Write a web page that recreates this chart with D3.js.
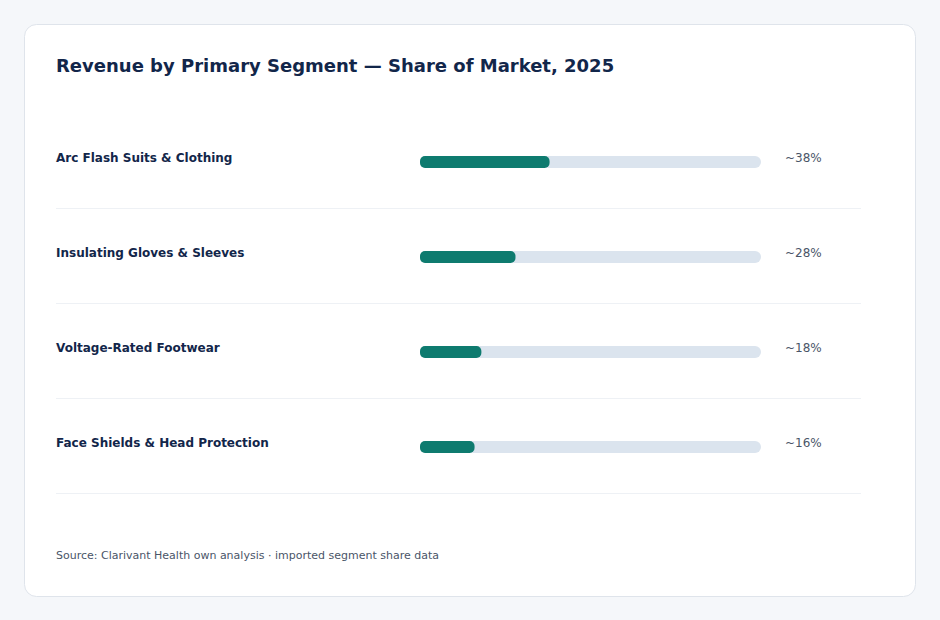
<!DOCTYPE html>
<html>
<head>
<meta charset="utf-8">
<script src="https://cdn.jsdelivr.net/npm/d3@7"></script>
<style>
  html, body { margin: 0; padding: 0; background: #f5f7fa; }
  svg { display: block; font-family: "DejaVu Sans", sans-serif; }
</style>
</head>
<body>
<div id="chart"></div>
<script>
const segments = ["Arc Flash Suits & Clothing", "Insulating Gloves & Sleeves", "Voltage-Rated Footwear", "Face Shields & Head Protection"];
const shares = [38, 28, 18, 16];
const shareLabels = ["~38%", "~28%", "~18%", "~16%"];

const width = 940, height = 620;

const svg = d3.select("#chart").append("svg")
    .attr("width", width)
    .attr("height", height);

// card
svg.append("rect")
    .attr("x", 24.5).attr("y", 24.5)
    .attr("width", 891).attr("height", 572)
    .attr("rx", 12)
    .attr("fill", "#fff")
    .attr("stroke", "#dfe4eb");

svg.append("text")
    .attr("x", 56).attr("y", 72)
    .attr("font-size", 18).attr("font-weight", "bold")
    .attr("fill", "#12264a")
    .text("Revenue by Primary Segment \u2014 Share of Market, 2025");

const rowY = d3.scaleBand()
    .domain(segments)
    .range([113, 493])
    .paddingInner(0);

const x = d3.scaleLinear().domain([0, 100]).range([420, 761]);

const rows = svg.append("g").selectAll("g")
    .data(segments)
    .join("g")
    .attr("transform", d => `translate(0,${rowY(d)})`);

rows.append("text")
    .attr("x", 56).attr("y", 49)
    .attr("font-size", 12).attr("font-weight", "bold")
    .attr("fill", "#12264a")
    .text(d => d);

rows.append("rect")
    .attr("x", x(0)).attr("y", 43)
    .attr("width", x(100) - x(0)).attr("height", 12)
    .attr("rx", 6)
    .attr("fill", "#dbe4ee");

rows.append("rect")
    .attr("x", x(0)).attr("y", 43)
    .attr("width", (d, i) => x(shares[i]) - x(0)).attr("height", 12)
    .attr("rx", 5)
    .attr("fill", "#0e7b6f");

rows.append("text")
    .attr("x", 785).attr("y", 49)
    .attr("font-size", 12)
    .attr("fill", "#4a5568")
    .text((d, i) => shareLabels[i]);

rows.append("line")
    .attr("x1", 56).attr("x2", 861)
    .attr("y1", rowY.bandwidth() + 0.5).attr("y2", rowY.bandwidth() + 0.5)
    .attr("stroke", "#eef1f5");

svg.append("text")
    .attr("x", 56).attr("y", 559)
    .attr("font-size", 11)
    .attr("fill", "#4a5568")
    .text("Source: Clarivant Health own analysis \u00b7 imported segment share data");
</script>
</body>
</html>
